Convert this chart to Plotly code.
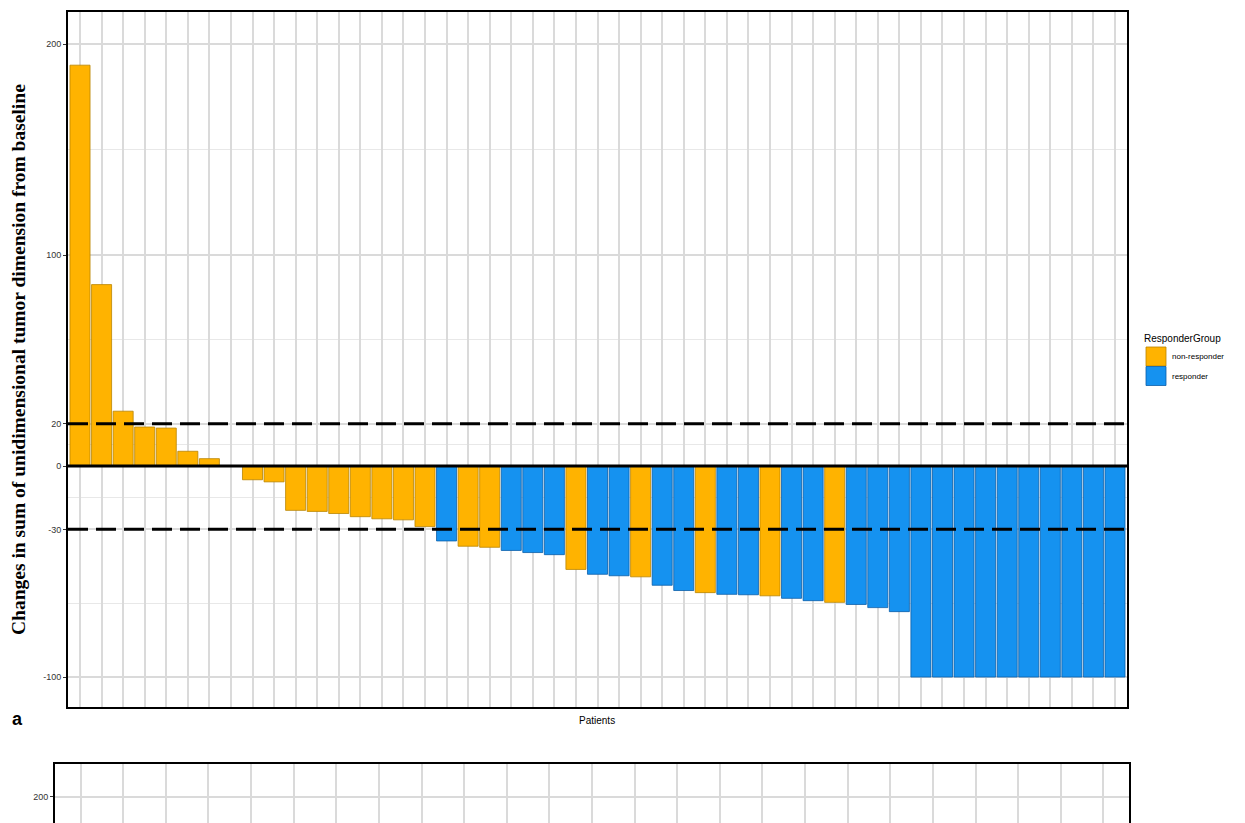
import plotly.graph_objects as go

# ---- data ----
patients = list(range(1, 50))
change = [190, 86, 26, 18.5, 18, 7, 3.5, 0, -6.5, -7.5,
          -21, -21.5, -22.5, -24, -25, -25.5, -28.7, -35.5, -38, -38.5,
          -40, -41, -42, -49, -51.3, -52, -52.5, -56.5, -59, -60,
          -60.8, -61, -61.5, -62.7, -63.8, -64.6, -65.6, -67.1, -69,
          -100, -100, -100, -100, -100, -100, -100, -100, -100, -100]
group = (["non-responder"] * 17 +
         ["responder", "non-responder", "non-responder", "responder", "responder",
          "responder", "non-responder", "responder", "responder", "non-responder",
          "responder", "responder", "non-responder", "responder", "responder",
          "non-responder", "responder", "responder", "non-responder"] +
         ["responder"] * 13)
groups = ["non-responder", "responder"]
colors = {"non-responder": "#FFB300", "responder": "#1592F0"}
outlines = {"non-responder": "#B98400", "responder": "#0B5EA8"}
ytick_vals = [-100, -30, 0, 20, 100, 200]
ytick_minor = [-65, -15, 10, 60, 150]
ref_lines = [20, -30]
panel_b_patients = list(range(1, 26))

W, H = 1245, 823
def px(x):
    return x / W
def py(y):
    return 1 - y / H

fig = go.Figure()
for g in groups:
    xs = [p for p, gg in zip(patients, group) if gg == g]
    ys = [v for v, gg in zip(change, group) if gg == g]
    fig.add_trace(go.Bar(x=xs, y=ys, name=g, width=0.93,
                         marker=dict(color=colors[g], line=dict(color=outlines[g], width=0.8)),
                         showlegend=False, xaxis="x", yaxis="y"))

# second (cut-off) panel
fig.add_trace(go.Scatter(x=panel_b_patients, y=[None] * len(panel_b_patients),
                         mode="markers", showlegend=False, xaxis="x2", yaxis="y2",
                         hoverinfo="skip"))

grid_major = "#DADADA"
grid_minor = "#E8E8E8"
tickfont = dict(family="Arial, Liberation Sans, sans-serif", size=9, color="#333333")

fig.update_layout(
    width=W, height=H,
    margin=dict(l=0, r=0, t=0, b=0),
    paper_bgcolor="white", plot_bgcolor="white",
    barmode="overlay",
    xaxis=dict(domain=[px(68), px(1127)], range=[0.443, 49.557],
               tickmode="array", tickvals=patients, showticklabels=False,
               ticks="", showgrid=True, gridcolor=grid_major, gridwidth=1.5,
               showline=True, linecolor="black", linewidth=2, mirror=True,
               zeroline=False, anchor="y"),
    yaxis=dict(domain=[py(707), py(12)], range=[-114.2, 215.2],
               tickmode="array", tickvals=ytick_vals, ticktext=[str(v) for v in ytick_vals],
               ticks="outside", ticklen=3, tickcolor="#333333", tickwidth=1,
               tickfont=tickfont, showgrid=True, gridcolor=grid_major, gridwidth=1.5,
               minor=dict(tickmode="array", tickvals=ytick_minor, showgrid=True,
                          gridcolor=grid_minor, gridwidth=1, ticks=""),
               showline=True, linecolor="black", linewidth=2, mirror=True,
               zeroline=False, anchor="x"),
    xaxis2=dict(domain=[px(55), px(1129)], range=[0.4, 25.6],
                tickmode="array", tickvals=panel_b_patients, showticklabels=False,
                ticks="", showgrid=True, gridcolor=grid_major, gridwidth=1.5,
                showline=True, linecolor="black", linewidth=2, mirror=False,
                side="top", zeroline=False, anchor="y2"),
    yaxis2=dict(domain=[0, py(764)], range=[187.7, 215.6],
                tickmode="array", tickvals=[200], ticktext=["200"],
                ticks="outside", ticklen=3, tickcolor="#333333", tickwidth=1,
                tickfont=tickfont, showgrid=True, gridcolor=grid_major, gridwidth=1.5,
                showline=True, linecolor="black", linewidth=2, mirror=True,
                zeroline=False, anchor="x2"),
)

# zero line and reference lines
fig.add_shape(type="line", xref="x domain", yref="y", x0=0, x1=1, y0=0, y1=0,
              line=dict(color="black", width=3), layer="above")
for r in ref_lines:
    fig.add_shape(type="line", xref="x domain", yref="y", x0=0, x1=1, y0=r, y1=r,
                  line=dict(color="black", width=3, dash="20px,8px"), layer="above")

# y-axis title
fig.add_annotation(text="<b>Changes in sum of unidimensional tumor dimension from baseline</b>",
                   xref="paper", yref="paper", x=px(18), y=py(360), textangle=-90,
                   showarrow=False, xanchor="center", yanchor="middle",
                   font=dict(family="Liberation Serif, Times New Roman, serif", size=19.5, color="black"))
# x-axis title
fig.add_annotation(text="Patients", xref="paper", yref="paper", x=px(597), y=py(720),
                   showarrow=False, xanchor="center", yanchor="middle",
                   font=dict(family="Arial, Liberation Sans, sans-serif", size=10, color="black"))
# panel label
fig.add_annotation(text="<b>a</b>", xref="paper", yref="paper", x=px(17), y=py(719),
                   showarrow=False, xanchor="center", yanchor="middle",
                   font=dict(family="Liberation Sans, Arial, sans-serif", size=18, color="black"))

# legend (drawn manually)
fig.add_annotation(text="ResponderGroup", xref="paper", yref="paper", x=px(1142), y=py(338),
                   showarrow=False, xanchor="left", yanchor="middle",
                   font=dict(family="Arial, Liberation Sans, sans-serif", size=10, color="black"))
for i, g in enumerate(groups):
    top = 347 + i * 19.5
    fig.add_shape(type="rect", xref="paper", yref="paper",
                  x0=px(1146), x1=px(1166), y0=py(top + 19), y1=py(top),
                  fillcolor=colors[g], line=dict(color=outlines[g], width=0.8))
    fig.add_annotation(text=g, xref="paper", yref="paper", x=px(1170), y=py(top + 9.5),
                       showarrow=False, xanchor="left", yanchor="middle",
                       font=dict(family="Arial, Liberation Sans, sans-serif", size=8, color="black"))

fig.write_html("out.html", config={"displayModeBar": False},
               post_script="document.body.style.margin='0';document.body.style.overflow='hidden';")
